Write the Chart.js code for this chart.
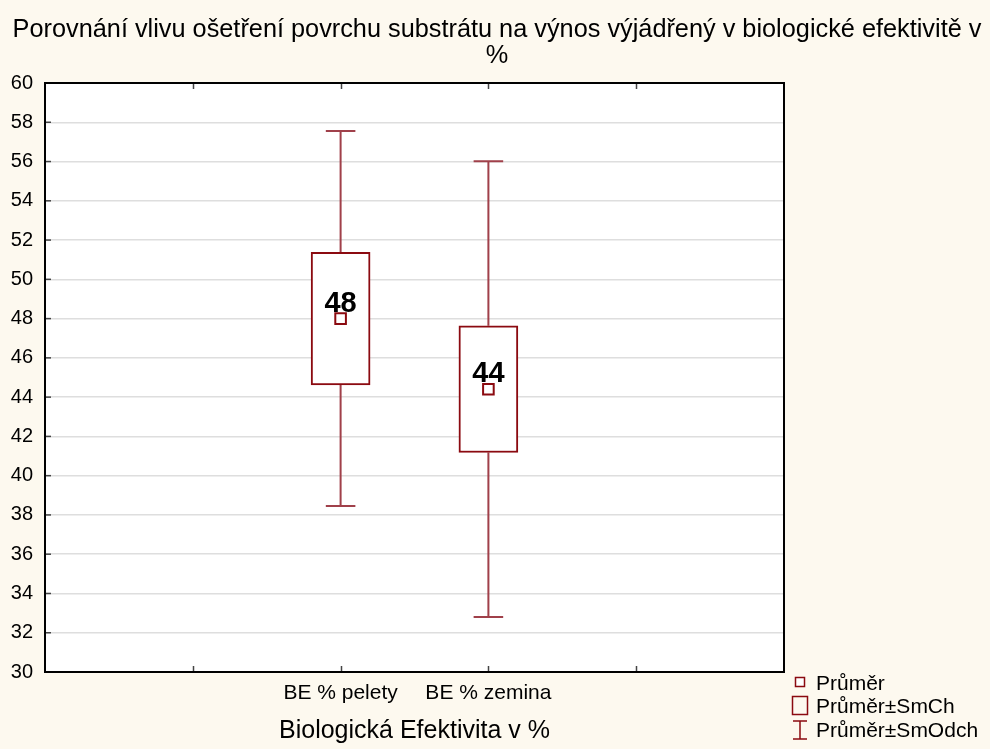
<!DOCTYPE html>
<html>
<head>
<meta charset="utf-8">
<script src="https://cdn.jsdelivr.net/npm/chart.js@4/dist/chart.umd.min.js"></script>
<style>
  html, body { margin: 0; padding: 0; background: #fdf9ef; }
  canvas { display: block; }
</style>
</head>
<body>
<canvas id="c" width="990" height="749"></canvas>
<script>
// ---- data ----
const categories = ['BE % pelety', 'BE % zemina'];
const means  = [48.0, 44.4];
const seLow  = [44.62, 41.18];
const seHigh = [51.38, 47.63];
const sdLow  = [38.45, 32.80];
const sdHigh = [57.56, 56.02];
const yTickMin = 30, yTickMax = 60, yTickStep = 2;
const legendLabels = ['Průměr', 'Průměr±SmCh', 'Průměr±SmOdch'];
const titleLines = ['Porovnání vlivu ošetření povrchu substrátu na výnos výjádřený v biologické efektivitě v', '%'];
const xTitle = 'Biologická Efektivita v %';

// ---- layout helpers ----
const SLOT_OFFSET = 2;        // categories sit on slots 2 and 3 of a 0..5 axis
const X_MIN = 0, X_MAX = 5;
const CAP = 0.1;
const RED = '#8b0a10';
const WHISK = '#a0404a';
const FONT = "'Liberation Sans', Arial, sans-serif";

const xs = categories.map((_, i) => i + SLOT_OFFSET);

const boxData = categories.map((_, i) => ({ x: xs[i], y: [seLow[i], seHigh[i]] }));
const meanData = categories.map((_, i) => ({ x: xs[i], y: means[i] }));
const whiskerData = [];
categories.forEach((_, i) => {
  const x = xs[i];
  whiskerData.push({ x, y: seHigh[i] }, { x, y: sdHigh[i] }, { x, y: null });
  whiskerData.push({ x: x - CAP, y: sdHigh[i] }, { x: x + CAP, y: sdHigh[i] }, { x, y: null });
  whiskerData.push({ x, y: seLow[i] }, { x, y: sdLow[i] }, { x, y: null });
  whiskerData.push({ x: x - CAP, y: sdLow[i] }, { x: x + CAP, y: sdLow[i] }, { x, y: null });
});

const bgPlugin = {
  id: 'bg',
  beforeDraw(chart) {
    const { ctx, chartArea: a } = chart;
    ctx.save();
    ctx.fillStyle = '#fdf9ef';
    ctx.fillRect(0, 0, chart.width, chart.height);
    ctx.fillStyle = '#ffffff';
    ctx.fillRect(a.left, a.top, a.right - a.left, a.bottom - a.top);
    // title across the full canvas width
    ctx.fillStyle = '#000';
    ctx.font = '25.3px ' + FONT;
    ctx.textAlign = 'center';
    ctx.textBaseline = 'middle';
    ctx.fillText(titleLines[0], chart.width / 2 + 2, 30);
    ctx.fillText(titleLines[1], chart.width / 2 + 2, 56);
    ctx.restore();
  }
};

const framePlugin = {
  id: 'frame',
  afterDraw(chart) {
    const { ctx, chartArea: a, scales } = chart;
    ctx.save();
    // inward ticks
    ctx.strokeStyle = '#444';
    ctx.lineWidth = 1.5;
    for (let v = X_MIN + 1; v < X_MAX; v++) {
      const px = Math.round(scales.x.getPixelForValue(v)) + 0.5;
      ctx.beginPath();
      ctx.moveTo(px, a.bottom); ctx.lineTo(px, a.bottom - 6);
      ctx.moveTo(px, a.top); ctx.lineTo(px, a.top + 6);
      ctx.stroke();
    }
    for (let v = yTickMin + yTickStep; v < yTickMax; v += yTickStep) {
      const py = scales.y.getPixelForValue(v);
      ctx.beginPath();
      ctx.moveTo(a.left, py); ctx.lineTo(a.left + 6, py);
      ctx.stroke();
    }
    // frame
    ctx.strokeStyle = '#000';
    ctx.lineWidth = 2;
    ctx.strokeRect(a.left, a.top, a.right - a.left, a.bottom - a.top);

    // legend
    ctx.font = '21px ' + FONT;
    ctx.textAlign = 'left';
    ctx.textBaseline = 'middle';
    const tx = 816;
    ctx.strokeStyle = RED;
    ctx.lineWidth = 1.5;
    ctx.fillStyle = '#fff';
    ctx.fillRect(795.5, 677.5, 9, 9);
    ctx.strokeRect(795.5, 677.5, 9, 9);
    ctx.strokeRect(792.5, 696.5, 15, 18);
    ctx.beginPath();
    ctx.moveTo(793, 721); ctx.lineTo(807, 721);
    ctx.moveTo(800, 721); ctx.lineTo(800, 739);
    ctx.moveTo(793, 739); ctx.lineTo(807, 739);
    ctx.stroke();
    ctx.fillStyle = '#000';
    ctx.fillText(legendLabels[0], tx, 684);
    ctx.fillText(legendLabels[1], tx, 707);
    ctx.fillText(legendLabels[2], tx, 731);
    ctx.restore();
  }
};

const labelPlugin = {
  id: 'meanLabels',
  afterDatasetsDraw(chart) {
    const { ctx } = chart;
    const meta = chart.getDatasetMeta(2);
    ctx.save();
    ctx.font = 'bold 29px ' + FONT;
    ctx.fillStyle = '#000';
    ctx.textAlign = 'center';
    ctx.textBaseline = 'middle';
    meta.data.forEach((pt, i) => {
      ctx.fillText(String(Math.round(means[i])), pt.x, pt.y - 15);
    });
    ctx.restore();
  }
};

new Chart(document.getElementById('c'), {
  type: 'bar',
  data: {
    datasets: [
      {
        type: 'line',
        data: whiskerData,
        borderColor: WHISK,
        borderWidth: 2,
        pointRadius: 0,
        spanGaps: false,
        fill: false,
        order: 3
      },
      {
        type: 'bar',
        data: boxData,
        backgroundColor: '#ffffff',
        borderColor: RED,
        borderWidth: 2,
        borderSkipped: false,
        barThickness: 59,
        order: 2
      },
      {
        type: 'scatter',
        data: meanData,
        pointStyle: 'rect',
        pointRadius: 7.5,
        pointBackgroundColor: '#ffffff',
        pointBorderColor: RED,
        pointBorderWidth: 2,
        order: 1
      }
    ]
  },
  options: {
    responsive: false,
    animation: false,
    layout: { padding: { left: 0, right: 206, top: 83, bottom: 0 } },
    plugins: {
      legend: { display: false },
      tooltip: { enabled: false },
      title: { display: false }
    },
    scales: {
      x: {
        type: 'linear',
        offset: false,
        min: X_MIN, max: X_MAX,
        grid: { display: false, drawTicks: false, offset: false },
        border: { display: false },
        afterFit(scale) { scale.height = 77; },
        afterBuildTicks(scale) {
          scale.ticks = [];
          for (let v = X_MIN; v <= X_MAX; v++) scale.ticks.push({ value: v });
        },
        ticks: {
          autoSkip: false,
          maxRotation: 0,
          padding: 9,
          color: '#000',
          font: { family: FONT, size: 21 },
          callback(v) {
            const idx = v - SLOT_OFFSET;
            return (idx >= 0 && idx < categories.length) ? categories[idx] : '';
          }
        },
        title: {
          display: true,
          text: xTitle,
          color: '#000',
          font: { family: FONT, size: 25 },
          padding: { top: 0, bottom: 3 }
        }
      },
      y: {
        min: yTickMin, max: yTickMax,
        grid: { color: '#dedede', lineWidth: 1.5, drawTicks: false },
        border: { display: false },
        afterFit(scale) { scale.width = 45; },
        ticks: {
          stepSize: yTickStep,
          padding: 12,
          color: '#000',
          font: { family: FONT, size: 20 }
        }
      }
    }
  },
  plugins: [bgPlugin, framePlugin, labelPlugin]
});
</script>
</body>
</html>
